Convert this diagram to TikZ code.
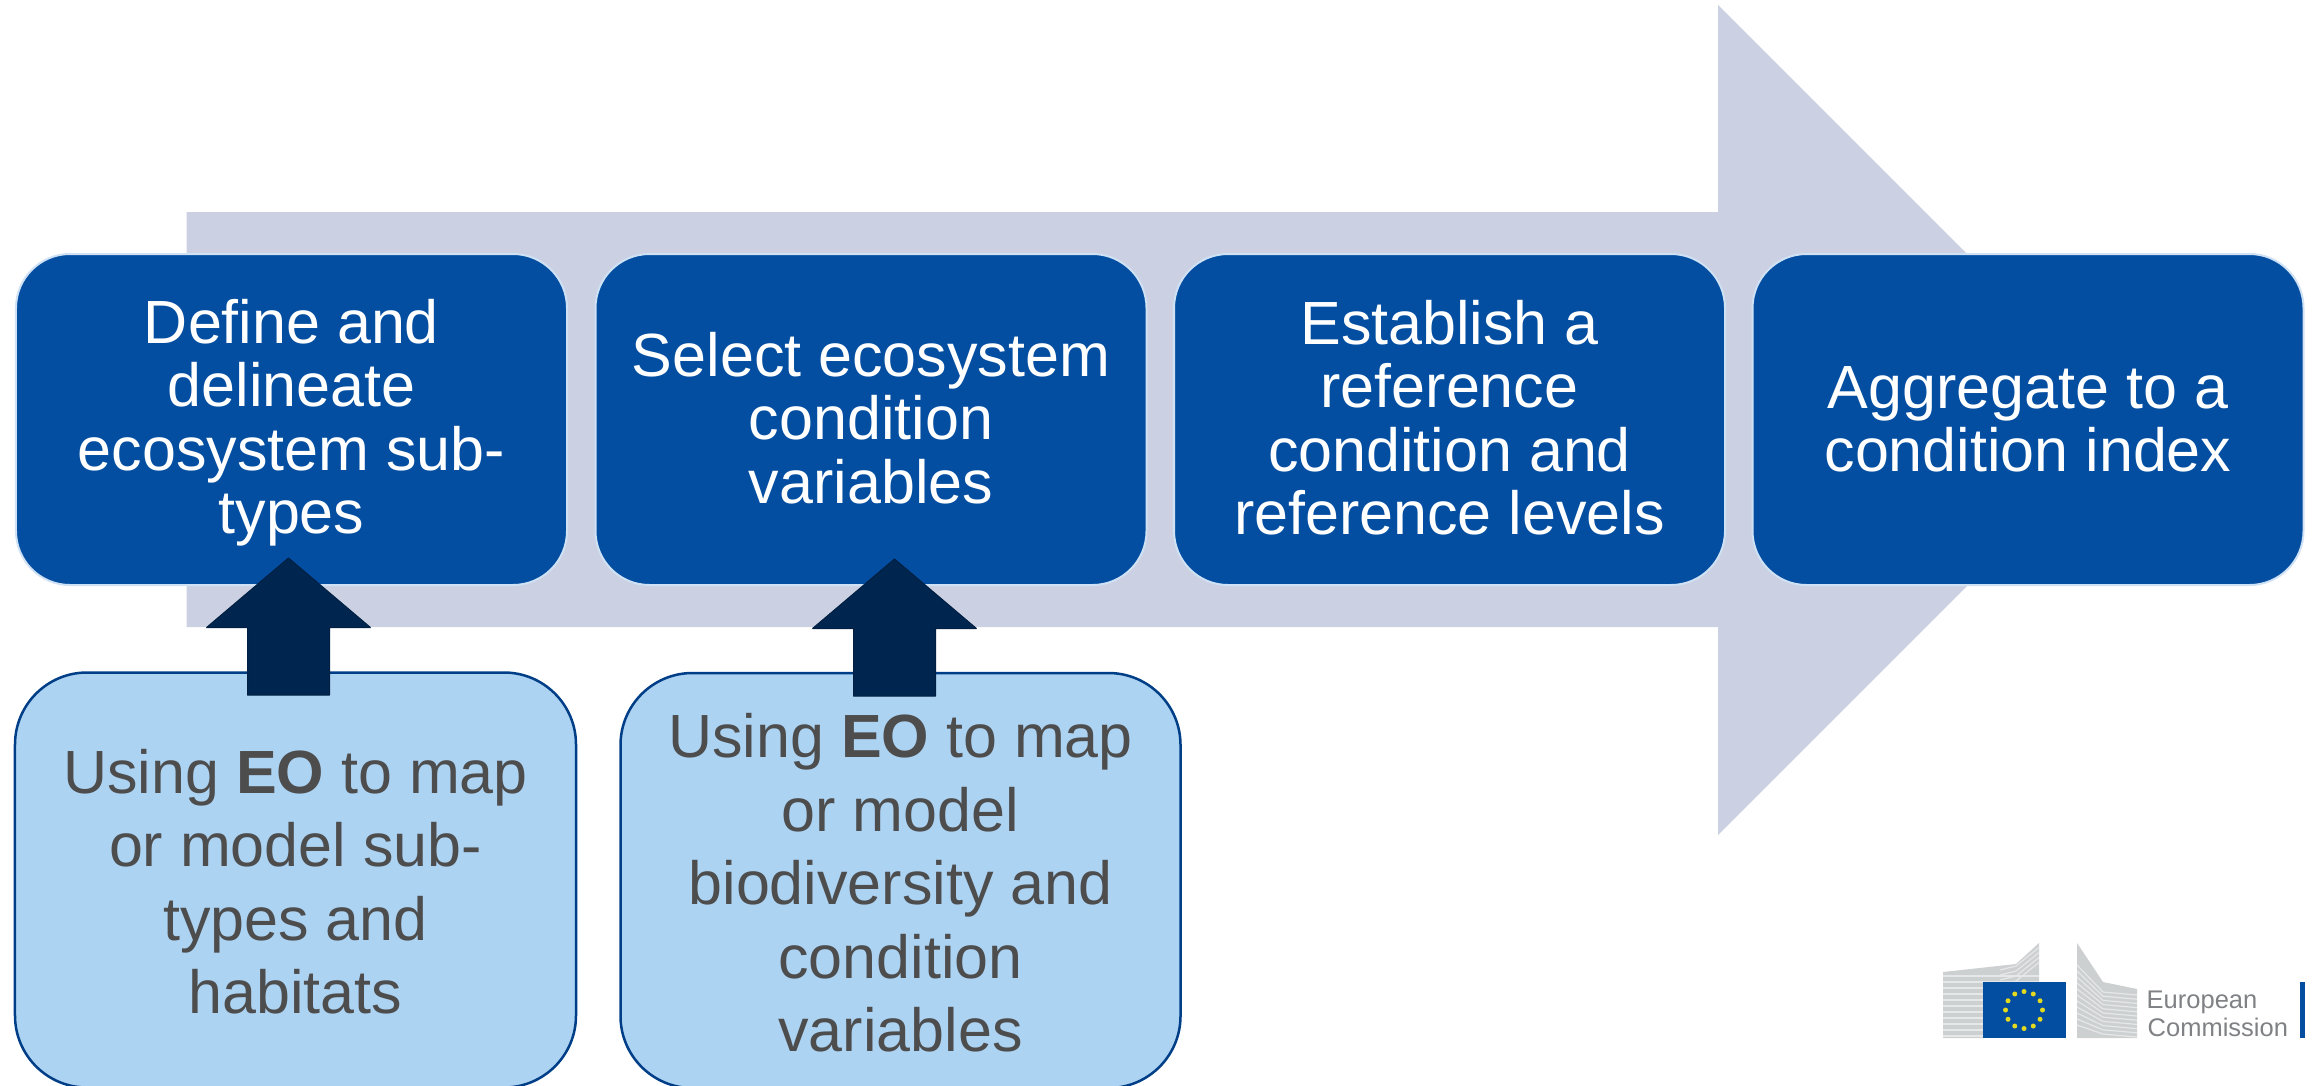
\documentclass[tikz,border=0pt]{standalone}
\usepackage{fontspec}
\setmainfont{Liberation Sans}
\usetikzlibrary{calc}
\definecolor{bigarrow}{HTML}{CBD1E2}
\definecolor{stepblue}{HTML}{044EA1}
\definecolor{stepedge}{HTML}{CFE1F4}
\definecolor{eofill}{HTML}{ADD3F3}
\definecolor{eoedge}{HTML}{003F87}
\definecolor{eotext}{HTML}{4D4D4D}
\definecolor{navy}{HTML}{00264F}
\definecolor{navyedge}{HTML}{001F42}
\definecolor{logogrey}{HTML}{CDD0D1}
\definecolor{logostripe}{HTML}{E6E7E8}
\definecolor{logotext}{HTML}{7F8184}
\definecolor{logostar}{HTML}{E3D91E}
\tikzset{
  stepbox/.style={draw=stepedge,line width=2bp,fill=stepblue,text=white,rounded corners=54bp,
    minimum width=551bp,minimum height=331bp,inner sep=0pt,align=center,
    font=\fontsize{61bp}{63.5bp}\selectfont},
  eobox/.style={draw=eoedge,line width=2.5bp,fill=eofill,text=eotext,rounded corners=72bp,
    minimum width=561bp,minimum height=415bp,inner sep=0pt,align=center,
    font=\fontsize{61bp}{73.5bp}\selectfont},
  blockarrow/.style={draw=navyedge,line width=1bp,fill=navy,line join=bevel},
  logotxt/.style={text=logotext,inner sep=0pt,anchor=base west,
    font=\fontsize{25.5bp}{28bp}\selectfont},
}
\begin{document}
\begin{tikzpicture}[x=1bp,y=-1bp]
\useasboundingbox (0,0) rectangle (2318,1085);
% big process arrow
\fill[bigarrow] (186.5,212) -- (1718,212) -- (1718,5) -- (2133,420) -- (1718,835) -- (1718,627) -- (186.5,627) -- cycle;
% step boxes
\node[stepbox] (s1) at (291.5,419.5) {\rule{0pt}{51bp}Define and\\delineate\\ecosystem sub-\\types};
\node[stepbox] (s2) at (871,419.5) {Select ecosystem\\condition\\variables\rule[-4bp]{0pt}{0pt}};
\node[stepbox] (s3) at (1449.5,419.5) {Establish a\\reference\\condition and\\reference levels\rule[-4bp]{0pt}{0pt}};
\node[stepbox] (s4) at (2028,419.5) {Aggregate to a\\condition index};
% EO boxes
\node[eobox,minimum width=561bp] (e1) at (295.5,880) {\rule{0pt}{48bp}Using \textbf{EO} to map\\or model sub-\\types and\\habitats};
\node[eobox,minimum width=560bp] (e2) at (900.5,880.5) {\rule{0pt}{49bp}Using \textbf{EO} to map\\or model\\biodiversity and\\condition\\variables};
% block arrows from EO boxes up to step boxes
\coordinate (a1tail) at (288.5,695);
\coordinate (a1tip) at (288.5,558);
\coordinate (a2tail) at (894.5,696);
\coordinate (a2tip) at (894.5,559);
\foreach \t/\h in {a1tail/a1tip,a2tail/a2tip}{
  \draw[blockarrow] (\t) ++(-41,0) -- ++(0,-67.5) -- ++(-41,0) -- (\h)
     -- ($(\t)+(82,-67.5)$) -- ++(-41,0) -- ++(0,67.5) -- cycle;
}
% logo: left building
\begin{scope}
\clip (1943,972) -- (2016,964) -- (2039,943) -- (2039,982) -- (1983,982) -- (1983,1038) -- (1943,1038) -- cycle;
\fill[logogrey] (1940,940) rectangle (2042,1040);
\foreach \yy in {976,982,...,1038} \draw[logostripe,line width=1.2bp] (1940,\yy) -- (2042,\yy);
\foreach \k in {0,5,10,15} \draw[logostripe,line width=1.2bp] (2000,970+\k) -- (2016,966+\k) -- (2042,945+\k);
\end{scope}
% logo: flag
\fill[stepblue] (1983,982) rectangle (2066,1038);
\foreach \a in {0,30,...,330}
  \node[logostar,fill=logostar,circle,inner sep=0pt,minimum size=5bp] (star\a) at ($(2024,1010)+(\a:18.5)$) {};
% logo: right building
\begin{scope}
\clip (2077,943) -- (2103,982) -- (2137,989) -- (2137,1038) -- (2077,1038) -- cycle;
\fill[logogrey] (2070,940) rectangle (2140,1040);
\foreach \k in {0,6,...,60} \draw[logostripe,line width=1.2bp] (2077,965+\k) -- (2103,992+\k*0.7) -- (2137,995+\k*0.7);
\end{scope}
% logo: wordmark
\node[logotxt] (w1) at (2146.5,1008) {European};
\node[logotxt] (w2) at (2147.5,1036.5) {Commission};
\fill[stepblue] (2299.5,982) rectangle (2305,1038);
\end{tikzpicture}
\end{document}
